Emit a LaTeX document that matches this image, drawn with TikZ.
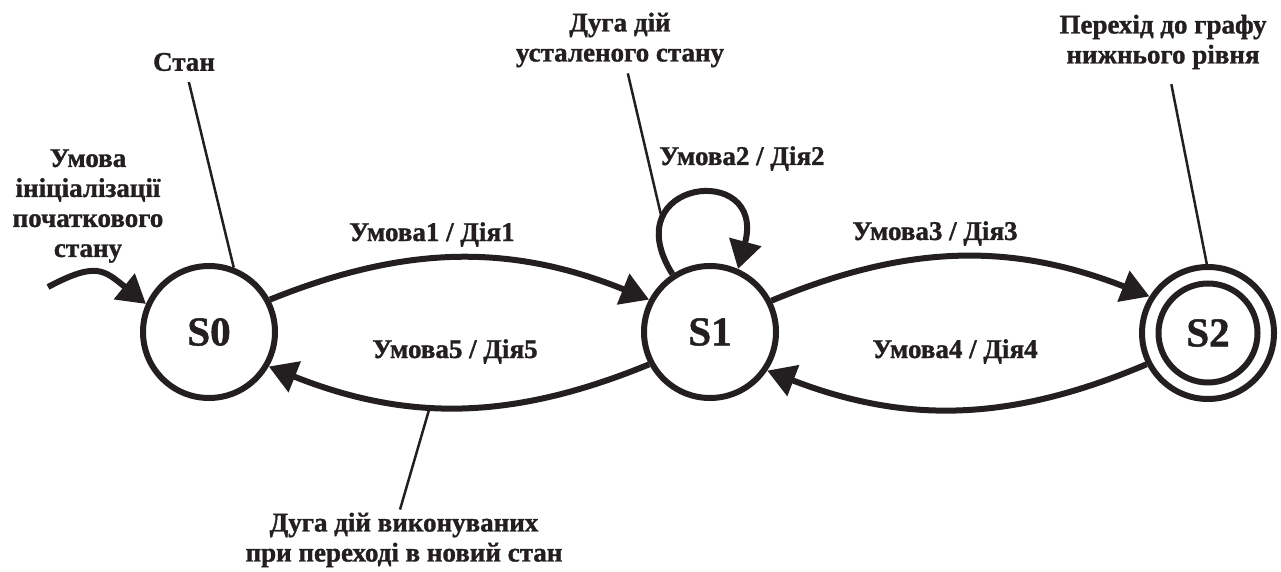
\documentclass[tikz,border=0pt]{standalone}
\usepackage{fontspec}
\setmainfont{Liberation Serif}[BoldFeatures={FakeBold=1.2}]
\usetikzlibrary{arrows.meta}
\definecolor{ink}{RGB}{35,31,32}

\begin{document}
\begin{tikzpicture}
	[
	x=1pt, y=1pt, color=ink,
	font=\fontsize{27}{30}\selectfont\bfseries,
	>={Triangle[length=28pt,width=32pt]},
	%Стилі
	state/.style={circle, draw, line width=6pt, minimum size=132pt, inner sep=0pt, font=\fontsize{41}{44}\selectfont\bfseries},
	arc/.style={->, line width=6pt},
	cond/.style={anchor=base, inner sep=1pt},
	note/.style={align=center, inner sep=3pt},
	pointer/.style={line width=2.5pt}
	]
	
	\useasboundingbox (0,0) rectangle (1281,571);
	
	%Стани
	\node [state] (s0) at (209,239) {S0};
	\node [state] (s1) at (710,239) {S1};
	\node [state] (s2) at (1208,238) {S2};
	\draw [line width=6pt] (s2.center) circle (49.5);
	
	%Початковий перехід
	\coordinate (init) at (48,284);
	\draw [arc] (init) to [out=28, in=141, looseness=1.4] (s0.156);
	
	%Дуги переходів
	\draw [arc] (s0.28) to [bend left=22] (s1.152);
	\draw [arc] (s1.208) to [bend left=22] coordinate [pos=0.58] (lowmark) (s0.330);
	\draw [arc] (s1.27) to [bend left=22] (s2.148);
	\draw [arc] (s2.207) to [bend left=22] (s1.326);
	\draw [arc] (s1.123) .. controls +(122:112) and +(75:112) .. (s1.66) coordinate [pos=0.25] (loopmark);
	
	%Умови / дії
	\node [cond] (c1) at (432,330) {Умова1 / Дія1};
	\node [cond] (c2) at (742,406) {Умова2 / Дія2};
	\node [cond] (c3) at (935,331) {Умова3 / Дія3};
	\node [cond] (c4) at (955,213) {Умова4 / Дія4};
	\node [cond] (c5) at (455,213) {Умова5 / Дія5};
	
	%Пояснення
	\node [note] (stan) at (184,509) {Стан};
	\node [note] (initnote) at (88,365) {Умова\\ініціалізації\\початкового\\стану};
	\node [note] (loopnote) at (620,531) {Дуга дій\\усталеного стану};
	\node [note] (subnote) at (1163,529) {Перехід до графу\\нижнього рівня};
	\node [note] (arcnote) at (404,31) {Дуга дій виконуваних\\при переході в новий стан};
	
	\draw [pointer, shorten <=8pt] (stan) -- (s0.69);
	\draw [pointer, shorten <=3pt] (loopnote) -- (loopmark);
	\draw [pointer, shorten <=12pt] (subnote) -- (s2.91);
	\draw [pointer] ([xshift=-4pt]arcnote.north) -- (lowmark);
\end{tikzpicture}
\end{document}
